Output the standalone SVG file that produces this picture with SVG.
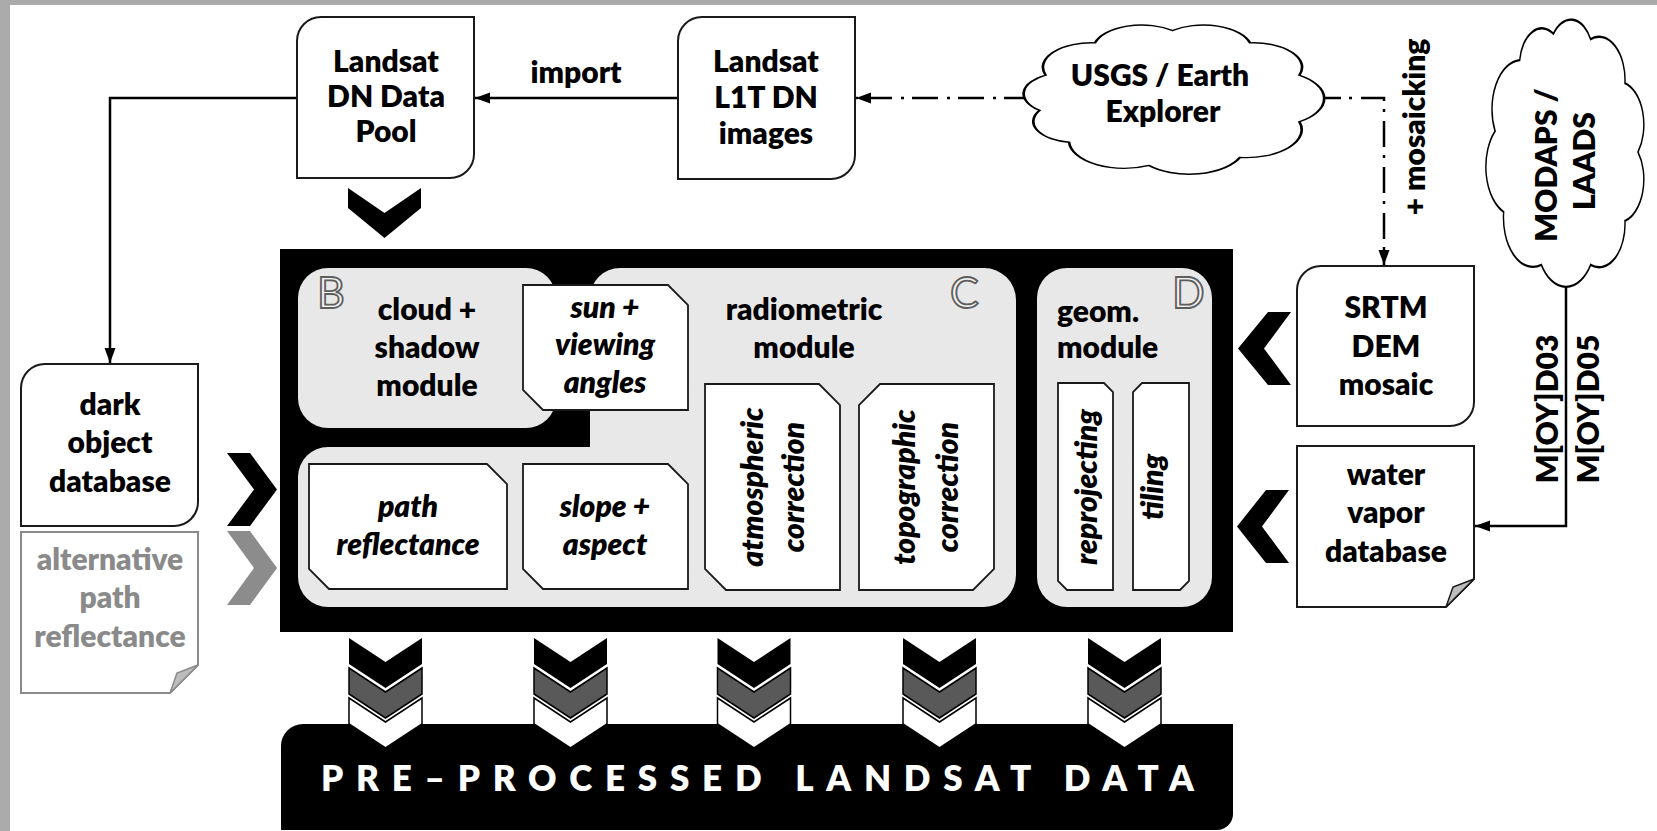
<svg xmlns="http://www.w3.org/2000/svg" width="1657" height="831" viewBox="0 0 1657 831">
<defs>
<style>
.t{font-family:Lato,'Open Sans','Liberation Sans',sans-serif;font-weight:800;font-size:30px;fill:#000;text-anchor:middle}
.i{font-style:italic}
.g{fill:#8a8a8a}
.w{fill:#fff}
.box{fill:#fff;stroke:#1a1a1a;stroke-width:2}
.sub{fill:#fff;stroke:#1a1a1a;stroke-width:1.8}
.mod{fill:#e8e8e8}
.ln{fill:none;stroke:#000;stroke-width:2.5}
.dd{stroke-dasharray:26 8 3 9}
.lt{font-family:Lato,'Open Sans','Liberation Sans',sans-serif;font-weight:400;font-size:43px;fill:#f2f2f2;stroke:#5e5e5e;stroke-width:1.8}
.cloud{fill:#fff;stroke:#000;stroke-width:2}
.fold{fill:#bdbdbd}
</style>
<marker id="ah" markerUnits="userSpaceOnUse" markerWidth="16" markerHeight="12" refX="15" refY="6" orient="auto"><path d="M0,0.5 L15,6 L0,11.5 z" fill="#000"/></marker>
<path id="cloudShape" d="M-98.5,17.4 A31,31 0 0 1 -94,-34.2 A36,36 0 0 1 -57.4,-81.9 A36,36 0 0 1 0,-100 A36,36 0 0 1 57.4,-81.9 A36,36 0 0 1 94,-34.2 A41,41 0 0 1 94,34.2 A41,41 0 0 1 50,86.6 A41,41 0 0 1 -17.4,98.5 A41,41 0 0 1 -76.6,64.3 A31,31 0 0 1 -98.5,17.4 Z"/>
<g id="tri">
<polygon points="-36.5,638 0,662 36.5,638 36.5,664 0,688 -36.5,664" fill="#000"/>
<polygon points="-36.5,668 0,692 36.5,668 36.5,694 0,718 -36.5,694" fill="#595959" stroke="#000" stroke-width="1.5"/>
<polygon points="-36.5,698 0,722 36.5,698 36.5,724 0,748 -36.5,724" fill="#fff" stroke="#000" stroke-width="1.5"/>
</g>
</defs>

<rect x="0" y="0" width="1657" height="831" fill="#ababab"/>
<rect x="10" y="5" width="1647" height="826" fill="#fff"/>

<g id="connectors">
<path class="ln" d="M297,98 H110 V363" marker-end="url(#ah)"/>
<path class="ln" d="M678,98 H475" marker-end="url(#ah)"/>
<path class="ln dd" d="M1030,98 H856" marker-end="url(#ah)"/>
<path class="ln dd" d="M1315,98 H1384 V265" marker-end="url(#ah)"/>
<path class="ln" d="M1566,270 V526 H1475" marker-end="url(#ah)"/>
</g>

<g id="landsat-dn-pool">
<path class="box" d="M321,17 H474 V154 A24,24 0 0 1 450,178 H297 V41 A24,24 0 0 1 321,17 Z"/>
<text class="t" x="386" y="72">Landsat</text>
<text class="t" x="386" y="107">DN Data</text>
<text class="t" x="386" y="142">Pool</text>
</g>

<g id="import-label">
<text class="t" x="576" y="83">import</text>
</g>

<g id="landsat-l1t">
<path class="box" d="M702,17 H855 V155 A24,24 0 0 1 831,179 H678 V41 A24,24 0 0 1 702,17 Z"/>
<text class="t" x="766" y="72">Landsat</text>
<text class="t" x="766" y="108">L1T DN</text>
<text class="t" x="766" y="144">images</text>
</g>

<g id="usgs">
<use href="#cloudShape" class="cloud" vector-effect="non-scaling-stroke" transform="translate(1172.5,98.5) scale(1.35,0.68)"/>
<text class="t" x="1160" y="86">USGS / Earth</text>
<text class="t" x="1163" y="122">Explorer</text>
</g>

<g id="mosaicking-label">
<text class="t" transform="translate(1425,127) rotate(-90)">+ mosaicking</text>
</g>

<g id="modaps">
<use href="#cloudShape" class="cloud" vector-effect="non-scaling-stroke" transform="translate(1566,152) rotate(90) scale(1.2,0.72)"/>
<text class="t" transform="translate(1557,165) rotate(-90)">MODAPS /</text>
<text class="t" transform="translate(1595,161) rotate(-90)">LAADS</text>
</g>

<g id="modis-labels">
<text class="t" transform="translate(1558,409) rotate(-90)">M[OY]D03</text>
<text class="t" transform="translate(1599,409) rotate(-90)">M[OY]D05</text>
</g>

<g id="dark-object-db">
<path class="box" d="M45,364 H198 V502 A24,24 0 0 1 174,526 H21 V388 A24,24 0 0 1 45,364 Z"/>
<text class="t" x="110" y="415">dark</text>
<text class="t" x="110" y="453">object</text>
<text class="t" x="110" y="492">database</text>
</g>

<g id="alt-path-reflectance">
<path d="M21,532 H198 V665 L170,693 H21 Z" fill="#fff" stroke="#8a8a8a" stroke-width="2"/>
<path class="fold" d="M170,693 L198,665 L177,673 Z" stroke="#8a8a8a" stroke-width="1.5"/>
<text class="t g" x="110" y="570">alternative</text>
<text class="t g" x="110" y="608">path</text>
<text class="t g" x="110" y="647">reflectance</text>
</g>

<g id="processing-core">
<rect x="280" y="249" width="953" height="383" fill="#000"/>
</g>

<g id="module-b">
<rect class="mod" x="298" y="268" width="258" height="160" rx="30"/>
<text class="lt" x="317" y="308">B</text>
<text class="t" x="427" y="320">cloud +</text>
<text class="t" x="427" y="358">shadow</text>
<text class="t" x="427" y="396">module</text>
</g>

<g id="module-c">
<path class="mod" d="M620,268 H984 A32,32 0 0 1 1016,300 V575 A32,32 0 0 1 984,607 H328 A30,30 0 0 1 298,577 V477 A30,30 0 0 1 328,447 H590 V298 A30,30 0 0 1 620,268 Z"/>
<text class="lt" x="950" y="308">C</text>
<text class="t" x="804" y="320">radiometric</text>
<text class="t" x="804" y="358">module</text>
</g>

<g id="module-d">
<rect class="mod" x="1037" y="268" width="175" height="339" rx="30"/>
<text class="lt" x="1172" y="308">D</text>
<text class="t" x="1057" y="322" style="text-anchor:start">geom.</text>
<text class="t" x="1057" y="358" style="text-anchor:start">module</text>
</g>

<g id="sun-viewing">
<path class="sub" d="M523,285 H668 L688,305 V410 H543 L523,390 Z"/>
<text class="t i" x="605" y="318">sun +</text>
<text class="t i" x="605" y="355">viewing</text>
<text class="t i" x="605" y="393">angles</text>
</g>

<g id="path-reflectance">
<path class="sub" d="M309,464 H487 L507,484 V589 H329 L309,569 Z"/>
<text class="t i" x="408" y="517">path</text>
<text class="t i" x="408" y="555">reflectance</text>
</g>

<g id="slope-aspect">
<path class="sub" d="M523,464 H668 L688,484 V589 H543 L523,569 Z"/>
<text class="t i" x="605" y="517">slope +</text>
<text class="t i" x="605" y="555">aspect</text>
</g>

<g id="atmospheric-correction">
<path class="sub" d="M705,384 H819 L840,405 V590 H726 L705,569 Z"/>
<text class="t i" transform="translate(763,487) rotate(-90)">atmospheric</text>
<text class="t i" transform="translate(804,487) rotate(-90)">correction</text>
</g>

<g id="topographic-correction">
<path class="sub" d="M880,384 H994 V569 L973,590 H859 V405 Z"/>
<text class="t i" transform="translate(915,487) rotate(-90)">topographic</text>
<text class="t i" transform="translate(958,487) rotate(-90)">correction</text>
</g>

<g id="reprojecting">
<path class="sub" d="M1058,383 H1104 L1113,392 V590 H1067 L1058,581 Z"/>
<text class="t i" transform="translate(1097,487) rotate(-90)">reprojecting</text>
</g>

<g id="tiling">
<path class="sub" d="M1142,383 H1189 V581 L1180,590 H1133 V392 Z"/>
<text class="t i" transform="translate(1163,487) rotate(-90)">tiling</text>
</g>

<g id="srtm">
<path class="box" d="M1321,266 H1474 V402 A24,24 0 0 1 1450,426 H1297 V290 A24,24 0 0 1 1321,266 Z"/>
<text class="t" x="1386" y="318">SRTM</text>
<text class="t" x="1386" y="357">DEM</text>
<text class="t" x="1386" y="395">mosaic</text>
</g>

<g id="water-vapor-db">
<path class="box" d="M1297,446 H1474 V579 L1446,607 H1297 Z"/>
<path class="fold" d="M1446,607 L1474,579 L1453,587 Z" stroke="#1a1a1a" stroke-width="1.5"/>
<text class="t" x="1386" y="485">water</text>
<text class="t" x="1386" y="523">vapor</text>
<text class="t" x="1386" y="562">database</text>
</g>

<g id="pre-processed-output">
<path d="M303,724 H1233 V814 A16,16 0 0 1 1217,830 H281 V746 A22,22 0 0 1 303,724 Z" fill="#000"/>
<text class="t w" x="321" y="791" style="text-anchor:start;font-size:35px" textLength="873" lengthAdjust="spacing">PRE–PROCESSED LANDSAT DATA</text>
</g>

<g id="flow-chevrons">
<polygon points="348,188 384.5,213 421,188 421,208 384.5,238 348,208" fill="#000"/>
<polygon points="227,453 250,453 277,489.5 250,526 227,526 254,489.5" fill="#000"/>
<polygon points="227,531 250,531 277,568 250,605 227,605 254,568" fill="#8c8c8c"/>
<polygon points="1291,312 1268,312 1238,348.5 1268,385 1291,385 1264,348.5" fill="#000"/>
<polygon points="1289,490 1266,490 1237,526.5 1266,563 1289,563 1262,526.5" fill="#000"/>
<use href="#tri" transform="translate(385.5,0)"/>
<use href="#tri" transform="translate(570.5,0)"/>
<use href="#tri" transform="translate(754,0)"/>
<use href="#tri" transform="translate(939.5,0)"/>
<use href="#tri" transform="translate(1124.5,0)"/>
</g>
</svg>
